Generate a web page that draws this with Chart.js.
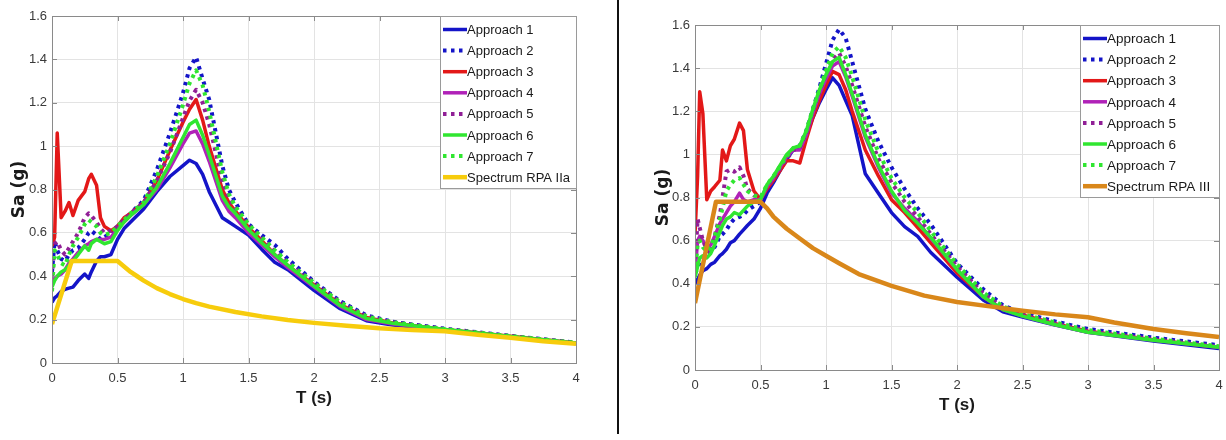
<!DOCTYPE html>
<html>
<head>
<meta charset="utf-8">
<script src="https://cdn.jsdelivr.net/npm/chart.js@4.4.1/dist/chart.umd.min.js"></script>
<style>
  html, body { margin: 0; padding: 0; background: #fff; }
  body { width: 1226px; height: 440px; position: relative; overflow: hidden; }
  #grafico-esq { position: absolute; left: 0; top: 0; }
  #grafico-dir { position: absolute; left: 620px; top: 0; }
  .separador { position: absolute; left: 617px; top: 0; width: 2px; height: 434px; background: #111; }
</style>
</head>
<body>
<canvas id="grafico-esq" width="613" height="440"></canvas>
<div class="separador"></div>
<canvas id="grafico-dir" width="606" height="440"></canvas>
<script>
// Labels and tick texts
const approachLabels = ['Approach 1', 'Approach 2', 'Approach 3', 'Approach 4', 'Approach 5', 'Approach 6', 'Approach 7'];
const leftSpectrumLabel = 'Spectrum RPA IIa';
const rightSpectrumLabel = 'Spectrum RPA III';
const xTickLabels = ['0', '0.5', '1', '1.5', '2', '2.5', '3', '3.5', '4'];
const yTickLabels = ['0', '0.2', '0.4', '0.6', '0.8', '1', '1.2', '1.4', '1.6'];

// Left chart: periods T (s) and Sa (g) per approach
const leftPeriods = [0, 0.02, 0.04, 0.07, 0.1, 0.13, 0.16, 0.2, 0.25, 0.28, 0.3, 0.34, 0.37, 0.4, 0.45, 0.5, 0.55, 0.6, 0.7, 0.8, 0.9, 1.0, 1.05, 1.1, 1.15, 1.2, 1.3, 1.35, 1.4, 1.5, 1.6, 1.7, 1.8, 2.0, 2.2, 2.4, 2.6, 3.0, 3.5, 4.0];
const leftApproach1 = [0.28, 0.30, 0.31, 0.33, 0.34, 0.345, 0.35, 0.38, 0.41, 0.39, 0.42, 0.47, 0.49, 0.49, 0.50, 0.57, 0.62, 0.65, 0.71, 0.79, 0.86, 0.91, 0.935, 0.92, 0.87, 0.79, 0.67, 0.65, 0.63, 0.59, 0.525, 0.465, 0.43, 0.335, 0.25, 0.195, 0.175, 0.152, 0.12, 0.09];
const leftApproach2 = [0.42, 0.56, 0.52, 0.48, 0.47, 0.50, 0.52, 0.53, 0.57, 0.60, 0.61, 0.59, 0.57, 0.58, 0.60, 0.63, 0.66, 0.69, 0.75, 0.89, 1.06, 1.245, 1.36, 1.41, 1.31, 1.215, 0.91, 0.80, 0.74, 0.64, 0.59, 0.545, 0.48, 0.375, 0.285, 0.22, 0.19, 0.158, 0.125, 0.094];
const leftApproach3 = [0.54, 0.58, 1.06, 0.67, 0.70, 0.74, 0.68, 0.75, 0.79, 0.85, 0.87, 0.82, 0.67, 0.63, 0.61, 0.63, 0.67, 0.69, 0.74, 0.84, 0.98, 1.11, 1.17, 1.215, 1.12, 1.00, 0.80, 0.74, 0.70, 0.625, 0.565, 0.50, 0.45, 0.36, 0.27, 0.21, 0.185, 0.155, 0.123, 0.092];
const leftApproach4 = [0.38, 0.39, 0.40, 0.41, 0.43, 0.46, 0.48, 0.51, 0.54, 0.55, 0.56, 0.57, 0.57, 0.57, 0.58, 0.62, 0.65, 0.68, 0.73, 0.80, 0.90, 1.01, 1.06, 1.07, 1.01, 0.93, 0.75, 0.70, 0.67, 0.60, 0.545, 0.49, 0.44, 0.35, 0.26, 0.20, 0.18, 0.153, 0.121, 0.091];
const leftApproach5 = [0.40, 0.55, 0.56, 0.52, 0.50, 0.53, 0.56, 0.60, 0.67, 0.69, 0.68, 0.65, 0.62, 0.60, 0.61, 0.63, 0.66, 0.69, 0.74, 0.84, 0.97, 1.13, 1.21, 1.26, 1.20, 1.10, 0.84, 0.76, 0.71, 0.635, 0.575, 0.515, 0.46, 0.37, 0.28, 0.215, 0.188, 0.156, 0.124, 0.093];
const leftApproach6 = [0.35, 0.38, 0.40, 0.42, 0.43, 0.45, 0.47, 0.50, 0.54, 0.52, 0.55, 0.57, 0.56, 0.55, 0.56, 0.61, 0.65, 0.68, 0.73, 0.81, 0.92, 1.04, 1.10, 1.12, 1.05, 0.96, 0.77, 0.72, 0.69, 0.615, 0.555, 0.50, 0.45, 0.355, 0.265, 0.205, 0.183, 0.154, 0.122, 0.092];
const leftApproach7 = [0.33, 0.52, 0.50, 0.46, 0.45, 0.50, 0.54, 0.58, 0.64, 0.66, 0.65, 0.63, 0.60, 0.59, 0.60, 0.63, 0.66, 0.69, 0.74, 0.86, 1.01, 1.19, 1.29, 1.35, 1.28, 1.16, 0.88, 0.78, 0.72, 0.64, 0.58, 0.52, 0.465, 0.37, 0.28, 0.215, 0.188, 0.156, 0.124, 0.093];
const leftSpectrumPeriods = [0, 0.15, 0.5, 0.55, 0.6, 0.65, 0.7, 0.8, 0.9, 1.0, 1.1, 1.2, 1.4, 1.6, 1.8, 2.0, 2.25, 2.5, 2.75, 3.0, 3.25, 3.5, 3.75, 4.0];
const leftSpectrum = [0.18, 0.47, 0.47, 0.445, 0.42, 0.40, 0.38, 0.345, 0.318, 0.295, 0.276, 0.26, 0.235, 0.215, 0.198, 0.185, 0.172, 0.16, 0.152, 0.146, 0.13, 0.116, 0.1, 0.089];

// Right chart
const rightPeriods = [0, 0.02, 0.036, 0.06, 0.09, 0.12, 0.15, 0.19, 0.21, 0.24, 0.27, 0.3, 0.34, 0.37, 0.4, 0.45, 0.5, 0.55, 0.6, 0.7, 0.75, 0.8, 0.85, 0.9, 0.95, 1.0, 1.05, 1.1, 1.15, 1.2, 1.3, 1.4, 1.5, 1.6, 1.7, 1.8, 2.0, 2.2, 2.35, 2.5, 2.75, 3.0, 3.5, 4.0];
const rightApproach1 = [0.40, 0.42, 0.44, 0.46, 0.47, 0.49, 0.50, 0.53, 0.54, 0.56, 0.59, 0.60, 0.63, 0.65, 0.67, 0.70, 0.75, 0.82, 0.87, 0.98, 1.02, 1.03, 1.09, 1.17, 1.24, 1.30, 1.355, 1.32, 1.25, 1.18, 0.91, 0.82, 0.73, 0.665, 0.62, 0.545, 0.43, 0.325, 0.27, 0.245, 0.208, 0.175, 0.135, 0.10];
const rightApproach2 = [0.45, 0.47, 0.50, 0.52, 0.54, 0.56, 0.57, 0.62, 0.63, 0.65, 0.68, 0.70, 0.71, 0.72, 0.74, 0.76, 0.78, 0.84, 0.89, 0.98, 1.02, 1.04, 1.11, 1.21, 1.31, 1.42, 1.53, 1.58, 1.54, 1.43, 1.21, 1.06, 0.94, 0.84, 0.75, 0.675, 0.495, 0.375, 0.30, 0.265, 0.225, 0.19, 0.15, 0.115];
const rightApproach3 = [0.63, 0.90, 1.29, 1.19, 0.79, 0.83, 0.85, 0.88, 1.02, 0.97, 1.04, 1.07, 1.145, 1.11, 0.93, 0.83, 0.79, 0.84, 0.88, 0.97, 0.97, 0.96, 1.07, 1.17, 1.25, 1.32, 1.385, 1.37, 1.30, 1.20, 1.02, 0.90, 0.79, 0.73, 0.66, 0.59, 0.45, 0.34, 0.28, 0.255, 0.215, 0.18, 0.14, 0.105];
const rightApproach4 = [0.45, 0.60, 0.62, 0.60, 0.57, 0.58, 0.62, 0.68, 0.70, 0.73, 0.76, 0.78, 0.82, 0.79, 0.78, 0.79, 0.79, 0.85, 0.89, 0.99, 1.02, 1.02, 1.09, 1.19, 1.28, 1.35, 1.41, 1.43, 1.36, 1.27, 1.08, 0.94, 0.82, 0.75, 0.69, 0.61, 0.465, 0.34, 0.28, 0.25, 0.21, 0.175, 0.138, 0.105];
const rightApproach5 = [0.48, 0.70, 0.66, 0.60, 0.56, 0.54, 0.62, 0.72, 0.80, 0.92, 0.93, 0.92, 0.94, 0.90, 0.84, 0.81, 0.80, 0.85, 0.89, 0.98, 1.02, 1.03, 1.10, 1.20, 1.29, 1.37, 1.44, 1.47, 1.41, 1.32, 1.13, 0.98, 0.87, 0.78, 0.71, 0.63, 0.48, 0.355, 0.29, 0.255, 0.215, 0.18, 0.142, 0.108];
const rightApproach6 = [0.43, 0.48, 0.52, 0.53, 0.52, 0.54, 0.58, 0.64, 0.67, 0.70, 0.71, 0.73, 0.72, 0.74, 0.76, 0.78, 0.79, 0.86, 0.90, 1.00, 1.03, 1.04, 1.11, 1.21, 1.30, 1.37, 1.43, 1.45, 1.37, 1.28, 1.09, 0.95, 0.83, 0.74, 0.68, 0.615, 0.465, 0.34, 0.28, 0.25, 0.21, 0.175, 0.138, 0.105];
const rightApproach7 = [0.45, 0.58, 0.60, 0.57, 0.55, 0.57, 0.62, 0.70, 0.75, 0.83, 0.86, 0.88, 0.89, 0.86, 0.83, 0.81, 0.80, 0.86, 0.90, 0.99, 1.03, 1.04, 1.11, 1.21, 1.30, 1.39, 1.47, 1.50, 1.45, 1.36, 1.16, 1.01, 0.89, 0.80, 0.73, 0.645, 0.49, 0.36, 0.295, 0.26, 0.22, 0.185, 0.145, 0.11];
const rightSpectrumPeriods = [0, 0.16, 0.5, 0.55, 0.6, 0.7, 0.8, 0.9, 1.0, 1.1, 1.25, 1.5, 1.75, 2.0, 2.25, 2.5, 2.75, 3.0, 3.2, 3.5, 3.75, 4.0];
const rightSpectrum = [0.31, 0.78, 0.78, 0.75, 0.71, 0.655, 0.61, 0.565, 0.53, 0.495, 0.445, 0.39, 0.345, 0.315, 0.295, 0.275, 0.258, 0.245, 0.22, 0.19, 0.17, 0.153];

// Line styles (colour + dash) for the seven approaches
const dotted = [3.5, 4.5];
const approachStyles = [
    { color: '#1414c8', dash: [] },
    { color: '#1414c8', dash: dotted },
    { color: '#e31818', dash: [] },
    { color: '#b022b8', dash: [] },
    { color: '#901f96', dash: dotted },
    { color: '#30e630', dash: [] },
    { color: '#30e630', dash: dotted }
];

const tickFont = { family: '"Liberation Sans", Arial, sans-serif', size: 13 };

function toPoints(periods, values) {
    return periods.map((t, i) => ({ x: t, y: values[i] }));
}

function buildDatasets(periods, approaches, specPeriods, specValues, specLabel, specColor) {
    const total = approaches.length + 1;
    const datasets = approaches.map((values, i) => ({
        label: approachLabels[i],
        data: toPoints(periods, values),
        borderColor: approachStyles[i].color,
        borderWidth: approachStyles[i].dash.length ? 4 : 3.5,
        borderDash: approachStyles[i].dash,
        borderCapStyle: 'butt',
        order: total - i // later series drawn on top, like MATLAB
    }));
    datasets.push({
        label: specLabel,
        data: toPoints(specPeriods, specValues),
        borderColor: specColor,
        borderWidth: 4.5,
        borderDash: [],
        order: 1
    });
    return datasets;
}

// Axes box with inward ticks + legend inside the plot area (top right)
const boxAndLegend = {
    id: 'boxAndLegend',
    afterDraw(chart, args, opts) {
        const { ctx, chartArea: area, scales } = chart;
        ctx.save();
        ctx.strokeStyle = '#8a8a8a';
        ctx.lineWidth = 1;
        ctx.beginPath();
        scales.x.ticks.forEach(t => {
            const px = Math.round(scales.x.getPixelForValue(t.value)) + 0.5;
            ctx.moveTo(px, area.bottom); ctx.lineTo(px, area.bottom - 5);
            ctx.moveTo(px, area.top); ctx.lineTo(px, area.top + 5);
        });
        scales.y.ticks.forEach(t => {
            const py = Math.round(scales.y.getPixelForValue(t.value)) + 0.5;
            ctx.moveTo(area.left, py); ctx.lineTo(area.left + 5, py);
            ctx.moveTo(area.right, py); ctx.lineTo(area.right - 5, py);
        });
        ctx.stroke();
        ctx.strokeRect(Math.round(area.left) + 0.5, Math.round(area.top) + 0.5, Math.round(area.width), Math.round(area.height));

        // legend
        ctx.font = opts.font;
        const datasets = chart.data.datasets;
        const w = opts.width;
        const h = 172;
        const rowH = 21.1;
        const left = Math.round(area.right) - w;
        const top = Math.round(area.top);
        ctx.fillStyle = '#fff';
        ctx.fillRect(left, top, w, h);
        ctx.strokeStyle = '#9a9a9a';
        ctx.strokeRect(left + 0.5, top + 0.5, w, h);
        datasets.forEach((d, i) => {
            const cy = top + 13.5 + i * rowH;
            ctx.strokeStyle = d.borderColor;
            ctx.lineWidth = d.borderWidth;
            ctx.setLineDash(d.borderDash);
            ctx.beginPath();
            ctx.moveTo(left + 3, cy);
            ctx.lineTo(left + 27, cy);
            ctx.stroke();
            ctx.setLineDash([]);
            ctx.fillStyle = '#1a1a1a';
            ctx.textBaseline = 'middle';
            ctx.textAlign = 'left';
            ctx.fillText(d.label, left + 27, cy + 1);
        });
        ctx.restore();
    }
};

function criarGrafico(canvasId, datasets, lay) {
    return new Chart(document.getElementById(canvasId), {
        type: 'line',
        data: { datasets },
        options: {
            responsive: false,
            animation: false,
            devicePixelRatio: 1,
            layout: { padding: { top: lay.top, right: lay.right, left: 0, bottom: 0 } },
            plugins: {
                legend: { display: false },
                tooltip: { enabled: false },
                boxAndLegend: { width: lay.legendWidth, font: lay.legendFont }
            },
            elements: {
                point: { radius: 0 },
                line: { tension: 0, fill: false, borderJoinStyle: 'round' }
            },
            scales: {
                x: {
                    type: 'linear', min: 0, max: 4,
                    ticks: { stepSize: 0.5, padding: 8, font: tickFont, color: '#3a3a3a', maxRotation: 0,
                        callback: (v, i) => xTickLabels[i] },
                    grid: { color: '#e3e3e3', drawTicks: false },
                    border: { display: false },
                    title: { display: true, text: 'T (s)', color: '#1a1a1a',
                        font: { family: '"Liberation Sans", Arial, sans-serif', size: 17, weight: 'bold' },
                        padding: { top: 0, bottom: lay.xTitleBottom } },
                    afterFit: s => {
                        s.height = lay.xHeight;
                        // keep the end labels from shrinking the plot area
                        s.paddingLeft = 0;
                        s.paddingRight = 4;
                    }
                },
                y: {
                    type: 'linear', min: 0, max: 1.6,
                    ticks: { stepSize: 0.2, padding: 5, font: tickFont, color: '#3a3a3a',
                        callback: (v, i) => yTickLabels[i] },
                    grid: { color: '#e3e3e3', drawTicks: false },
                    border: { display: false },
                    title: { display: true, text: 'Sa (g)', color: '#1a1a1a',
                        font: { family: '"DejaVu Sans", sans-serif', size: 17, weight: 'bold' },
                        padding: { top: lay.yTitleTop, bottom: 0 } },
                    afterFit: s => { s.width = lay.yWidth; }
                }
            }
        },
        plugins: [boxAndLegend]
    });
}

function inicializar() {
    const leftSets = buildDatasets(leftPeriods,
        [leftApproach1, leftApproach2, leftApproach3, leftApproach4, leftApproach5, leftApproach6, leftApproach7],
        leftSpectrumPeriods, leftSpectrum, leftSpectrumLabel, '#f7cc0c');
    const rightSets = buildDatasets(rightPeriods,
        [rightApproach1, rightApproach2, rightApproach3, rightApproach4, rightApproach5, rightApproach6, rightApproach7],
        rightSpectrumPeriods, rightSpectrum, rightSpectrumLabel, '#d9871a');

    criarGrafico('grafico-esq', leftSets, { top: 16, right: 37, yWidth: 52, xHeight: 77, yTitleTop: 9, xTitleBottom: 31,
        legendWidth: 136, legendFont: '13px "Liberation Sans", Arial, sans-serif' });
    criarGrafico('grafico-dir', rightSets, { top: 25, right: 7, yWidth: 75, xHeight: 70, yTitleTop: 33, xTitleBottom: 24,
        legendWidth: 139, legendFont: '13.5px "Liberation Sans", Arial, sans-serif' });
}

document.addEventListener('DOMContentLoaded', inicializar);
</script>
</body>
</html>
